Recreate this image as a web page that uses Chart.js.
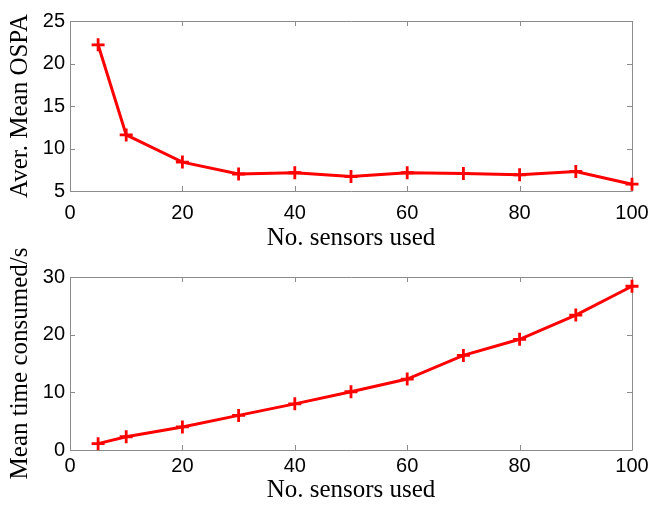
<!DOCTYPE html>
<html>
<head>
<meta charset="utf-8">
<script src="https://cdn.jsdelivr.net/npm/chart.js@4.4.1/dist/chart.umd.min.js"></script>
<style>
body { margin: 0; background: #fff; }
#wrap { position: relative; width: 652px; height: 505px; }
canvas { position: absolute; left: 0; }
</style>
</head>
<body>
<div id="wrap">
  <canvas id="ospaCanvas" width="652" height="255" style="top:0px"></canvas>
  <canvas id="timeCanvas" width="652" height="270" style="top:235px"></canvas>
</div>
<script>
// number of sensors on the x axis
var sensorCounts = [5, 10, 20, 30, 40, 50, 60, 70, 80, 90, 100];
// averaged mean OSPA per sensor count
var ospaValues = [22.2, 11.6, 8.4, 7.0, 7.15, 6.7, 7.15, 7.05, 6.9, 7.3, 5.8];
// mean running time (seconds) per sensor count
var timeValues = [1.1, 2.3, 4.0, 6.0, 8.0, 10.1, 12.3, 16.4, 19.2, 23.4, 28.4];

var xTitle = "No. sensors used";
var ospaTitle = "Aver. Mean OSPA";
var timeTitle = "Mean time consumed/s";

var tickFont = { family: "Liberation Sans", size: 20 };
var titleFont = { family: "Liberation Serif", size: 25 };
var frameColor = "#8c8c8c";

// matlab style frame: full box plus short inward ticks on all four sides
var boxTicks = {
    id: "boxTicks",
    beforeDatasetsDraw: function(chart){
        var ctx = chart.ctx;
        var a = chart.chartArea;
        var xs = chart.scales.x;
        var ys = chart.scales.y;
        ctx.save();
        ctx.strokeStyle = frameColor;
        ctx.lineWidth = 1;
        ctx.beginPath();
        xs.ticks.forEach(function(t){
            var px = Math.round(xs.getPixelForValue(t.value)) + 0.5;
            ctx.moveTo(px, a.bottom); ctx.lineTo(px, a.bottom - 5);
            ctx.moveTo(px, a.top); ctx.lineTo(px, a.top + 5);
        });
        ys.ticks.forEach(function(t){
            var py = Math.round(ys.getPixelForValue(t.value)) + 0.5;
            ctx.moveTo(a.left, py); ctx.lineTo(a.left + 5, py);
            ctx.moveTo(a.right, py); ctx.lineTo(a.right - 5, py);
        });
        ctx.rect(Math.round(a.left) + 0.5, Math.round(a.top) + 0.5,
                 Math.round(a.right - a.left), Math.round(a.bottom - a.top));
        ctx.stroke();
        ctx.restore();
    }
};

function toPoints(values){
    var pts = [];
    for(var i = 0; i < sensorCounts.length; i++){
        pts.push({x: sensorCounts[i], y: values[i]});
    }
    return pts;
}

// keep the plot box fixed: no extra room for overhanging tick labels
function noOverhang(scale){
    scale.paddingLeft = 0;
    scale.paddingRight = 0;
    scale.paddingTop = 0;
    scale.paddingBottom = 0;
}

function makeChart(canvasId, values, yMin, yMax, yStep, yTitle, padTop, axisHeight, tickPad, titlePad){
    return new Chart(document.getElementById(canvasId), {
        type: "line",
        data: {
            datasets: [{
                data: toPoints(values),
                borderColor: "#ff0000",
                borderWidth: 3,
                pointStyle: "cross",
                pointRadius: 6.5,
                pointBorderWidth: 2.8,
                pointBorderColor: "#ff0000",
                pointBackgroundColor: "#ff0000",
                tension: 0,
                clip: false
            }]
        },
        options: {
            responsive: false,
            animation: false,
            layout: { padding: { top: padTop, right: 20, left: 0, bottom: 0 } },
            plugins: { legend: { display: false }, tooltip: { enabled: false } },
            scales: {
                x: {
                    type: "linear",
                    min: 0, max: 100,
                    grid: { display: false, drawTicks: false },
                    border: { display: false },
                    ticks: { stepSize: 20, color: "#000", font: tickFont, padding: tickPad, maxRotation: 0 },
                    title: { display: true, text: xTitle, color: "#000", font: titleFont,
                             padding: { top: 0, bottom: titlePad } },
                    afterFit: function(scale){ scale.height = axisHeight; noOverhang(scale); }
                },
                y: {
                    min: yMin, max: yMax,
                    grid: { display: false, drawTicks: false },
                    border: { display: false },
                    ticks: { stepSize: yStep, color: "#000", font: tickFont, padding: 5 },
                    title: { display: true, text: yTitle, color: "#000", font: titleFont,
                             padding: { top: 5, bottom: 0 } },
                    afterFit: function(scale){ scale.width = 70; noOverhang(scale); }
                }
            }
        },
        plugins: [boxTicks]
    });
}

makeChart("ospaCanvas", ospaValues, 5, 25, 5, ospaTitle, 21, 64, 10, 2);
makeChart("timeCanvas", timeValues, 0, 30, 10, timeTitle, 42, 55, 4, 0);
</script>
</body>
</html>
